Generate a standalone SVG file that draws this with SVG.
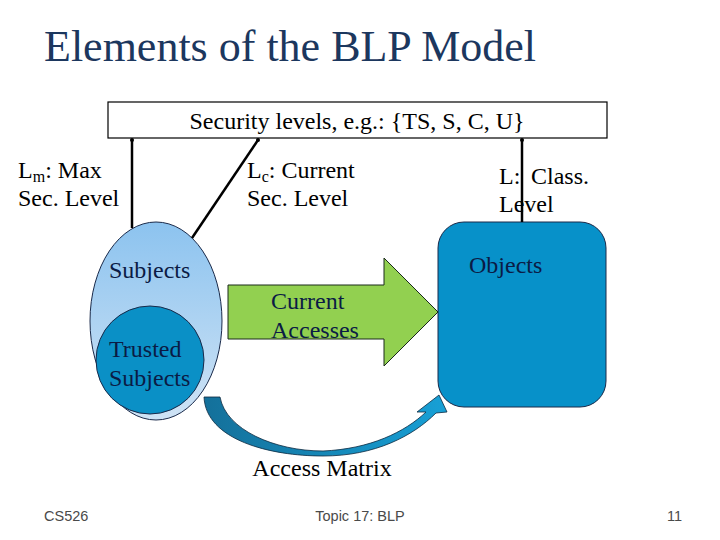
<svg xmlns="http://www.w3.org/2000/svg" width="720" height="540" viewBox="0 0 720 540">
<defs>
<linearGradient id="subjGrad" x1="0" y1="0" x2="0" y2="1">
<stop offset="0" stop-color="#8cc3ef"/>
<stop offset="1" stop-color="#cfe3f5"/>
</linearGradient>
<linearGradient id="curveGrad" x1="0" y1="0" x2="1" y2="0">
<stop offset="0" stop-color="#14709a"/>
<stop offset="1" stop-color="#17a0d6"/>
</linearGradient>
<marker id="dot" viewBox="0 0 4 4" refX="2" refY="2" markerWidth="4" markerHeight="4" markerUnits="userSpaceOnUse">
<circle cx="2" cy="2" r="2" fill="#000"/>
</marker>
<style>
.serif{font-family:"Liberation Serif","Times New Roman",serif;}
.lbl{font-size:24px;fill:#000;}
.node{font-size:24px;fill:#0b1b45;}
.foot{font-family:"Liberation Sans",Arial,sans-serif;font-size:14.5px;fill:#4a4a4a;}
.conn{stroke:#000;stroke-width:2.5;fill:none;}
</style>
</defs>
<rect width="720" height="540" fill="#fff"/>
<text class="serif" x="44" y="61" font-size="44" fill="#1c375e">Elements of the BLP Model</text>

<g id="security-levels">
<rect x="108" y="102" width="499" height="36" fill="#fff" stroke="#000" stroke-width="1.2"/>
<text class="serif lbl" x="357" y="129" text-anchor="middle">Security levels, e.g.: {TS, S, C, U}</text>
</g>

<g id="subjects">
<ellipse cx="156" cy="321" rx="66" ry="99" fill="url(#subjGrad)" stroke="#1a2a4a" stroke-width="1"/>
<text class="serif node" x="109" y="278">Subjects</text>
</g>

<g id="trusted-subjects">
<circle cx="150" cy="360" r="54" fill="#0a90c6" stroke="#1a2a4a" stroke-width="1"/>
<text class="serif node" x="109" y="357">Trusted</text>
<text class="serif node" x="109" y="386">Subjects</text>
</g>

<g id="objects">
<rect x="438" y="222" width="168" height="185" rx="26" ry="26" fill="#0791c9" stroke="#1a2a4a" stroke-width="1"/>
<text class="serif node" x="469" y="273">Objects</text>
</g>

<g id="current-accesses">
<path d="M228,285 L384,285 L384,258 L438,312 L384,366 L384,339 L228,339 Z" fill="#92d050" stroke="#1a2a1a" stroke-width="1"/>
<text class="serif node" x="271" y="309">Current</text>
<text class="serif node" x="271" y="338">Accesses</text>
</g>

<g id="access-matrix">
<path d="M204,397 C206,440 270,456 323,456 C375,456 413,436 436,413 L447,412 L439,395 L417,412 L426,412 C405,432 370,449 323,451 C275,451 226,430 220,397 Z" fill="url(#curveGrad)" stroke="#0c2a40" stroke-width="0.8"/>
<text class="serif lbl" x="322" y="476" text-anchor="middle">Access Matrix</text>
</g>

<g id="connectors">
<line class="conn" x1="132" y1="228" x2="132" y2="140" marker-end="url(#dot)"/>
<line class="conn" x1="192" y1="238" x2="258" y2="140" marker-end="url(#dot)"/>
<line class="conn" x1="522" y1="222" x2="522" y2="140" marker-end="url(#dot)"/>
</g>

<g id="labels">
<text class="serif lbl" x="18" y="178">L<tspan font-size="16" dy="4">m</tspan><tspan dy="-4">: Max</tspan></text>
<text class="serif lbl" x="18" y="206">Sec. Level</text>
<text class="serif lbl" x="247" y="178">L<tspan font-size="16" dy="4">c</tspan><tspan dy="-4">: Current</tspan></text>
<text class="serif lbl" x="247" y="206">Sec. Level</text>
<text class="serif lbl" x="499" y="184">L:<tspan x="531">Class.</tspan></text>
<text class="serif lbl" x="499" y="212">Level</text>
</g>

<g id="footer">
<text class="foot" x="44" y="521">CS526</text>
<text class="foot" x="360" y="521" text-anchor="middle">Topic 17: BLP</text>
<text class="foot" x="682" y="521" text-anchor="end">11</text>
</g>
</svg>
